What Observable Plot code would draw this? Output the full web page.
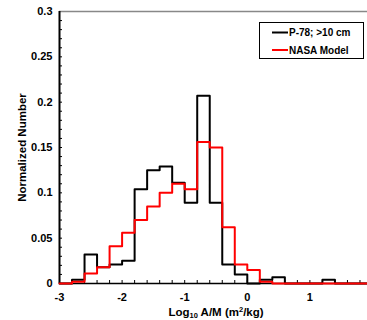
<!DOCTYPE html>
<html>
<head>
<meta charset="utf-8">
<script src="https://cdn.jsdelivr.net/npm/d3@7"></script>
<script src="https://cdn.jsdelivr.net/npm/@observablehq/plot@0.6"></script>
<style>
  html, body { margin: 0; padding: 0; background: #fff; }
  #chart { width: 367px; height: 320px; overflow: hidden; }
  svg { font-family: "Liberation Sans", Arial, sans-serif; font-weight: bold; }
</style>
</head>
<body>
<div id="chart"></div>
<script>
// Bin edges of log10 A/M (m^2/kg)
const binEdges = [-3, -2.8, -2.6, -2.4, -2.2, -2.0, -1.8, -1.6, -1.4, -1.2, -1.0, -0.8, -0.6, -0.4, -0.2, 0, 0.2, 0.4, 0.6, 0.8, 1.0, 1.2, 1.4, 1.6, 1.8, 2.0];
// Normalized counts per bin (one fewer than edges)
const p78 = [0, 0.004, 0.032, 0.018, 0.021, 0.025, 0.104, 0.125, 0.129, 0.111, 0.089, 0.207, 0.089, 0.021, 0.010, 0, 0.004, 0.007, 0, 0, 0, 0.004, 0, 0, 0];
const nasa = [0, 0.002, 0.011, 0.018, 0.041, 0.056, 0.070, 0.085, 0.100, 0.110, 0.104, 0.156, 0.150, 0.062, 0.021, 0.015, 0.002, 0, 0, 0, 0, 0, 0, 0, 0];
const seriesNames = ["P-78; >10 cm", "NASA Model"];
const seriesColors = ["#000000", "#ff0000"];
const yTickValues = [0, 0.05, 0.1, 0.15, 0.2, 0.25, 0.3];
const yTickLabels = ["0", "0.05", "0.1", "0.15", "0.2", "0.25", "0.3"];
const xTickValues = [-3, -2, -1, 0, 1];
const xTickLabels = ["-3", "-2", "-1", "0", "1"];
const yMinorTicks = d3.range(0, 0.3001, 0.01);
const xMinorTicks = binEdges;

function stepRows(vals, name) {
  const rows = binEdges.slice(0, -1).map((e, i) => ({x: e, y: vals[i], s: name}));
  rows.push({x: binEdges[binEdges.length - 1], y: vals[vals.length - 1], s: name});
  return rows;
}

const W = 367, H = 320;
const chart = Plot.plot({
  width: W,
  height: H,
  marginLeft: 59,
  marginTop: 11,
  marginBottom: 37,
  marginRight: 0,
  style: {fontFamily: "Liberation Sans, Arial, sans-serif", fontWeight: "bold", fontSize: "11px", color: "#000", background: "#fff"},
  x: {domain: [-3, 2], range: [59, 372]},
  y: {domain: [0, 0.3]},
  marks: [
    // minor ticks (inside)
    Plot.axisY({ticks: yMinorTicks, tickSize: -3, tickFormat: () => "", label: null, strokeWidth: 1}),
    Plot.axisX({ticks: xMinorTicks, tickSize: -3, tickFormat: () => "", label: null, strokeWidth: 1}),
    // labels
    Plot.axisY({ticks: yTickValues, tickSize: 0, tickPadding: 7, tickFormat: (d) => yTickLabels[yTickValues.indexOf(d)], fontSize: 11, fontWeight: "bold",
      label: "Normalized Number", labelAnchor: "center", labelOffset: 42, labelArrow: "none"}),
    Plot.axisX({ticks: xTickValues, tickSize: 0, tickPadding: 10, tickFormat: (d) => xTickLabels[xTickValues.indexOf(d)], fontSize: 11, fontWeight: "bold", label: null}),
    // frame lines
    Plot.ruleY([0.3], {stroke: "#888", strokeWidth: 1.5}),
    Plot.ruleY([0], {stroke: "#000", strokeWidth: 1.5}),
    Plot.ruleX([-3], {stroke: "#000", strokeWidth: 2}),
    // histograms
    Plot.line(stepRows(p78, seriesNames[0]), {x: "x", y: "y", curve: "step-after", stroke: seriesColors[0], strokeWidth: 2}),
    Plot.line(stepRows(nasa, seriesNames[1]), {x: "x", y: "y", curve: "step-after", stroke: seriesColors[1], strokeWidth: 2})
  ]
});
document.getElementById("chart").appendChild(chart);

const svg = d3.select(chart);
// y label font size
svg.selectAll("g[aria-label='y-axis label']").attr("font-size", 11.5);
svg.selectAll("g[aria-label='y-axis label'] text").attr("font-size", 11.5);

// x-axis title with subscript and superscript
const xt = svg.append("text")
  .attr("x", 216).attr("y", 316)
  .attr("text-anchor", "middle")
  .attr("font-size", 11.5).attr("font-weight", "bold").attr("fill", "#000");
xt.append("tspan").text("Log");
xt.append("tspan").attr("font-size", 7.5).attr("dy", 2).text("10");
xt.append("tspan").attr("dy", -2).text(" A/M (m");
xt.append("tspan").attr("font-size", 7.5).attr("dy", -4).text("2");
xt.append("tspan").attr("dy", 4).text("/kg)");

// legend
const lg = svg.append("g").attr("text-anchor", "start");
lg.append("rect").attr("x", 259.5).attr("y", 22.5).attr("width", 104).attr("height", 36)
  .attr("fill", "#fff").attr("stroke", "#000").attr("stroke-width", 1);
seriesNames.forEach((n, i) => {
  const yy = 32.5 + i * 17.5;
  lg.append("line").attr("x1", 272).attr("x2", 288).attr("y1", yy).attr("y2", yy)
    .attr("stroke", seriesColors[i]).attr("stroke-width", 2);
  lg.append("text").attr("x", 289).attr("y", yy + 3.5).attr("font-size", 10)
    .attr("text-anchor", "start")
    .attr("font-weight", "bold").attr("fill", "#000").text(n);
});
</script>
</body>
</html>
